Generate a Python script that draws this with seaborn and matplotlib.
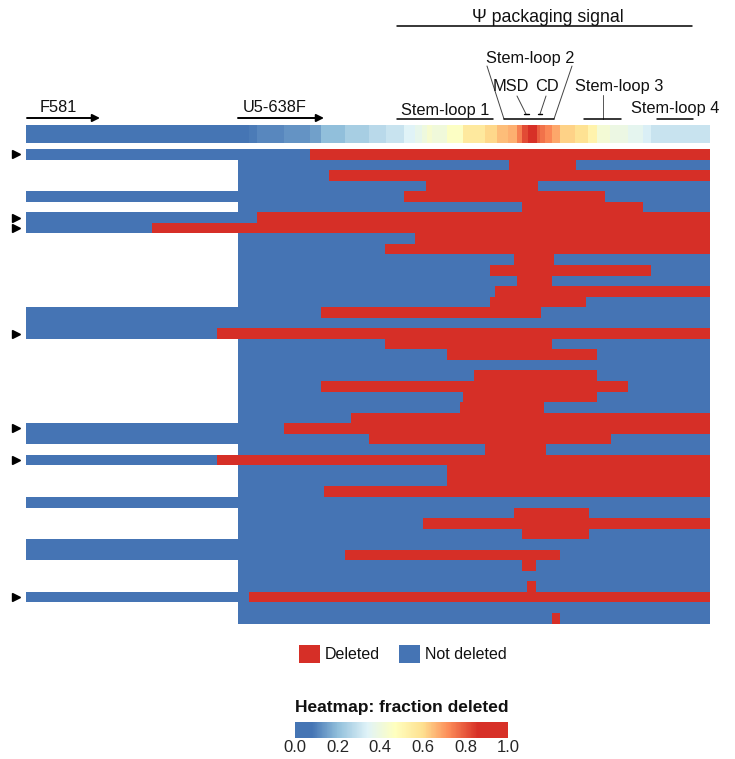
import numpy as np
import matplotlib
matplotlib.use("Agg")
import matplotlib.pyplot as plt
from matplotlib.colors import ListedColormap, LinearSegmentedColormap
from matplotlib.patches import Patch
import seaborn as sns

# ---------------------------------------------------------------------------
# Data: one row per sequenced provirus, positions in alignment columns
# ---------------------------------------------------------------------------
N_COLS = 684
F581_START = 0
U5_START = 212

read_start = [0, 212, 212, 212, 0, 212, 0, 0, 212, 212,
              212, 212, 212, 212, 212, 0, 0, 0, 212, 212,
              212, 212, 212, 212, 212, 212, 0, 0, 212, 0,
              212, 212, 212, 0, 212, 212, 212, 0, 0, 212,
              212, 212, 0, 212, 212]

del_start = [284, 483, 303, 400, 378, 496, 231, 126, 389, 359,
             488, 464, 491, 469, 464, 295, None, 191, 359, 421,
             None, 448, 295, 437, 434, 325, 258, 343, 459, 191,
             421, 421, 298, None, 488, 397, 496, None, 319, 496,
             None, 501, 223, None, 526]

del_end = [684, 550, 684, 512, 579, 617, 684, 684, 684, 684,
           528, 625, 526, 684, 560, 515, None, 684, 526, 571,
           None, 571, 602, 571, 518, 684, 684, 585, 520, 684,
           684, 684, 684, None, 563, 684, 563, None, 534, 510,
           None, 510, 684, None, 534]

# rows whose deletion runs from the F581 amplicon through the end of the read
flagged = [0, 6, 7, 17, 26, 29, 42]

# Fraction of sequences deleted at each column (segments: edge -> value)
strip_edges = [0, 223, 231, 258, 284, 295, 319, 343, 360, 378,
               389, 396, 401, 406, 421, 437, 459, 471, 482, 491,
               496, 502, 511, 514, 519, 526, 534, 549, 562, 571,
               584, 602, 617, 625, 684]
strip_values = [0.00, 0.09, 0.11, 0.13, 0.15, 0.20, 0.24, 0.27, 0.30, 0.34,
                0.37, 0.40, 0.43, 0.41, 0.46, 0.56, 0.61, 0.65, 0.67, 0.74,
                0.82, 0.90, 0.79, 0.76, 0.73, 0.68, 0.62, 0.59, 0.52, 0.42,
                0.39, 0.36, 0.33, 0.30]

cbar_ticks = [0.0, 0.2, 0.4, 0.6, 0.8, 1.0]

BLUE = "#4574b4"
RED = "#d62f27"

# ---------------------------------------------------------------------------
# Build matrices
# ---------------------------------------------------------------------------
n_rows = len(read_start)
mat = np.full((n_rows, N_COLS), np.nan)
for r in range(n_rows):
    mat[r, read_start[r]:] = 0.0
    if del_start[r] is not None:
        mat[r, del_start[r]:del_end[r]] = 1.0

strip = np.zeros((1, N_COLS))
for a, b, v in zip(strip_edges[:-1], strip_edges[1:], strip_values):
    strip[0, a:b] = v

# ---------------------------------------------------------------------------
# Figure
# ---------------------------------------------------------------------------
sns.set_theme(style="white")
plt.rcParams["font.family"] = ["Liberation Sans", "DejaVu Sans"]
plt.rcParams["text.color"] = "#111111"

W, H = 735, 759
fig = plt.figure(figsize=(W / 100, H / 100), dpi=100)


def px_axes(x0, y0, x1, y1):
    return fig.add_axes([x0 / W, 1 - y1 / H, (x1 - x0) / W, (y1 - y0) / H])


ax_main = px_axes(26, 149, 710, 623.5)
ax_strip = px_axes(26, 124.7, 710, 143)
ax_ann = px_axes(26, 0, 710, 124.7)
cax = px_axes(295, 722, 508, 737.5)

heat_cmap = LinearSegmentedColormap.from_list(
    "fracdel",
    [(0.0, "#4575b4"), (0.08, "#4575b4"), (0.2, "#91bfdb"), (0.34, "#e0f3f8"),
     (0.47, "#ffffbf"), (0.6, "#fee090"), (0.72, "#fc8d59"), (0.86, "#d73027"),
     (1.0, "#d73027")])

# Deletion map
sns.heatmap(mat, ax=ax_main, cmap=ListedColormap([BLUE, RED]), vmin=0, vmax=1,
            cbar=False, xticklabels=False, yticklabels=False,
            mask=np.isnan(mat))
ax_main.set_xlim(0, N_COLS)
ax_main.set_ylim(n_rows, 0)
for r in flagged:
    ax_main.plot(-10, r + 0.5, marker=">", ms=6, color="black",
                 clip_on=False, linestyle="none")

# Fraction-deleted strip + colorbar
sns.heatmap(strip, ax=ax_strip, cmap=heat_cmap, vmin=0, vmax=1,
            xticklabels=False, yticklabels=False, cbar_ax=cax,
            cbar_kws=dict(orientation="horizontal", ticks=cbar_ticks))
cbar = ax_strip.collections[0].colorbar
cbar.outline.set_visible(False)
cbar.ax.set_xticklabels([f"{t:.1f}" for t in cbar_ticks])
cbar.ax.tick_params(length=0, labelsize=12, pad=2)
cbar.ax.set_title("Heatmap: fraction deleted", fontsize=12.5,
                  fontweight="bold", pad=7)

# Region annotations
ax_ann.set_xlim(0, N_COLS)
ax_ann.set_ylim(124.7, 0)
ax_ann.axis("off")
FS = 11.8

ax_ann.text(521.5, 22, "\u03A8 packaging signal", ha="center", va="baseline",
            fontsize=12.8)
ax_ann.plot([371, 666], [26, 26], color="black", lw=1.1)

ax_ann.text(504.5, 63, "Stem-loop 2", ha="center", va="baseline", fontsize=FS)
ax_ann.plot([461, 478], [66, 119], color="#444444", lw=0.7)
ax_ann.plot([546, 528], [66, 119], color="#444444", lw=0.7)
ax_ann.plot([478, 528], [119, 119], color="black", lw=1.1)

ax_ann.text(484.5, 91, "MSD", ha="center", va="baseline", fontsize=FS)
ax_ann.text(521, 91, "CD", ha="center", va="baseline", fontsize=FS)
ax_ann.plot([491, 500], [96, 114], color="#444444", lw=0.7)
ax_ann.plot([498, 503], [114, 114], color="black", lw=1.0)
ax_ann.plot([520, 514], [96, 114], color="#444444", lw=0.7)
ax_ann.plot([512, 516], [114, 114], color="black", lw=1.0)

ax_ann.text(593, 91, "Stem-loop 3", ha="center", va="baseline", fontsize=FS)
ax_ann.plot([577, 577], [95, 119], color="#555555", lw=0.7)
ax_ann.plot([558, 595], [119, 119], color="black", lw=1.1)

ax_ann.text(419.5, 115, "Stem-loop 1", ha="center", va="baseline", fontsize=FS)
ax_ann.plot([371, 467], [119, 119], color="black", lw=1.1)

ax_ann.text(649.5, 113, "Stem-loop 4", ha="center", va="baseline",
            fontsize=FS, clip_on=False)
ax_ann.plot([631, 667], [119, 119], color="black", lw=1.1)

# Primer arrows
for x0, x1, tx, label in [(F581_START + 1, 74, 14, "F581"),
                          (U5_START, 298, 217, "U5-638F")]:
    ax_ann.annotate("", xy=(x1, 118), xytext=(x0, 118),
                    arrowprops=dict(arrowstyle="-|>", color="black", lw=1.4,
                                    mutation_scale=11, shrinkA=0, shrinkB=0))
    ax_ann.text(tx, 112, label, ha="left", va="baseline", fontsize=FS)

# Legend
handles = [Patch(facecolor=RED, edgecolor="none"),
           Patch(facecolor=BLUE, edgecolor="none")]
fig.legend(handles, ["Deleted", "Not deleted"], loc="center",
           bbox_to_anchor=(403 / W, 1 - 654 / H), ncol=2, frameon=False,
           fontsize=11.5, handlelength=1.3, handleheight=1.3,
           handletextpad=0.3, columnspacing=1.2, borderaxespad=0)

fig.savefig("out.png", dpi=100)
